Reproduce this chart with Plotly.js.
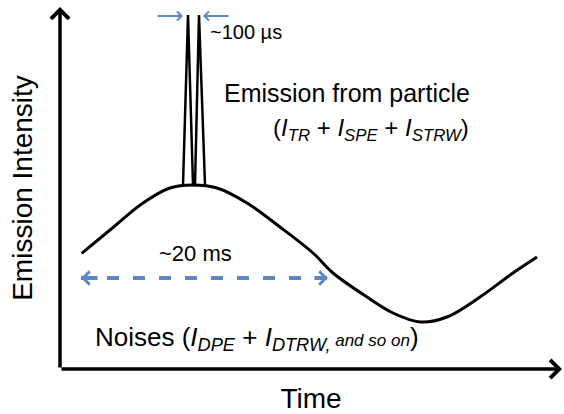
<!DOCTYPE html>
<html>
<head>
<meta charset="utf-8">
<script src="https://cdn.plot.ly/plotly-3.0.1.min.js"></script>
<style>html,body{margin:0;padding:0;background:#fff;}#chart{width:564px;height:414px;}</style>
</head>
<body>
<div id="chart"></div>
<script>
// Slow background (noise) emission, arbitrary units
const curveT = [21.7, 50, 83, 110, 133, 157, 187, 220, 253, 273, 307, 333, 360, 387, 420, 453, 477];
const curveI = [115.7, 139, 166, 181, 184, 181, 166, 142, 116, 96, 72, 56, 47, 52, 72, 96, 112];
// Particle emission spikes (two short pulses on top of the background)
const spikeT = [123, 128, 133, 135, 139, 145];
const spikeI = [184, 354, 184, 184, 354, 184];
// "~100 µs" pulse width markers
const pulseMarkT = [123, 143];
const pulseMarkI = 353;
// "~20 ms" span
const spanT = [21, 268];
const spanI = [91, 91];
// Axis extents
const tMax = 502;
const iMax = 362;

const FONT = 'Liberation Sans, Arial, sans-serif';
const BLUE = '#5b87c5';

const traces = [
  {x: curveT, y: curveI, mode: 'lines', line: {color: '#000', width: 3, shape: 'spline', smoothing: 1}, hoverinfo: 'skip', showlegend: false},
  {x: spikeT, y: spikeI, mode: 'lines', line: {color: '#000', width: 2.5}, hoverinfo: 'skip', showlegend: false},
  {x: spanT, y: spanI, mode: 'lines', line: {color: BLUE, width: 4, dash: '12px,14px'}, hoverinfo: 'skip', showlegend: false}
];

const annotations = [
  // axes with arrows
  {x: 0, y: iMax, ax: 0, ay: 0, axref: 'x', ayref: 'y', xref: 'x', yref: 'y', text: '', showarrow: true, arrowhead: 4, arrowsize: 1, arrowwidth: 3.5, arrowcolor: '#000'},
  {x: tMax, y: 0, ax: 0, ay: 0, axref: 'x', ayref: 'y', xref: 'x', yref: 'y', text: '', showarrow: true, arrowhead: 4, arrowsize: 1, arrowwidth: 3.5, arrowcolor: '#000'},
  // pulse width arrows
  {x: pulseMarkT[0], y: pulseMarkI, ax: -27, ay: 0, xref: 'x', yref: 'y', text: '', showarrow: true, arrowhead: 4, arrowsize: 0.8, arrowwidth: 2.2, arrowcolor: BLUE},
  {x: pulseMarkT[1], y: pulseMarkI, ax: 27, ay: 0, xref: 'x', yref: 'y', text: '', showarrow: true, arrowhead: 4, arrowsize: 0.8, arrowwidth: 2.2, arrowcolor: BLUE},
  // span arrowheads
  {x: spanT[0], y: spanI[0], ax: 18, ay: 0, xref: 'x', yref: 'y', text: '', showarrow: true, arrowhead: 4, arrowsize: 0.65, arrowwidth: 4, arrowcolor: BLUE},
  {x: spanT[1], y: spanI[1], ax: -15, ay: 0, xref: 'x', yref: 'y', text: '', showarrow: true, arrowhead: 4, arrowsize: 0.65, arrowwidth: 4, arrowcolor: BLUE},
  // texts
  {x: 148, y: 337, xref: 'x', yref: 'y', xanchor: 'left', yanchor: 'middle', showarrow: false, text: '~100 µs', font: {family: FONT, size: 20, color: '#000'}},
  {x: 162, y: 276, xref: 'x', yref: 'y', xanchor: 'left', yanchor: 'middle', showarrow: false, text: 'Emission from particle', font: {family: FONT, size: 25, color: '#000'}},
  {x: 211, y: 240, xref: 'x', yref: 'y', xanchor: 'left', yanchor: 'middle', showarrow: false, text: '(<i>I</i><sub><i>TR</i></sub> + <i>I</i><sub><i>SPE</i></sub> + <i>I</i><sub><i>STRW</i></sub>)', font: {family: FONT, size: 24, color: '#000'}},
  {x: 97, y: 116, xref: 'x', yref: 'y', xanchor: 'left', yanchor: 'middle', showarrow: false, text: '~20 ms', font: {family: FONT, size: 22, color: '#000'}},
  {x: 33, y: 31, xref: 'x', yref: 'y', xanchor: 'left', yanchor: 'middle', showarrow: false, text: 'Noises (<i>I</i><sub><i>DPE</i></sub> + <i>I</i><sub><i>DTRW,</i></sub><i><span style="font-size:17px"> and so on</span></i>)', font: {family: FONT, size: 26, color: '#000'}}
];

const layout = {
  width: 564, height: 414,
  margin: {l: 60, r: 2, t: 7, b: 45, pad: 0},
  paper_bgcolor: '#fff', plot_bgcolor: '#fff',
  showlegend: false,
  xaxis: {range: [0, tMax], showgrid: false, zeroline: false, showline: false, showticklabels: false, ticks: '', fixedrange: true,
          title: {text: 'Time', font: {family: FONT, size: 28, color: '#000'}, standoff: 27}, automargin: false},
  yaxis: {range: [0, iMax], showgrid: false, zeroline: false, showline: false, showticklabels: false, ticks: '', fixedrange: true,
          title: {text: 'Emission Intensity', font: {family: FONT, size: 28, color: '#000'}, standoff: 18}, automargin: false},
  annotations: annotations
};

Plotly.newPlot('chart', traces, layout, {staticPlot: true, displayModeBar: false});
</script>
</body>
</html>
